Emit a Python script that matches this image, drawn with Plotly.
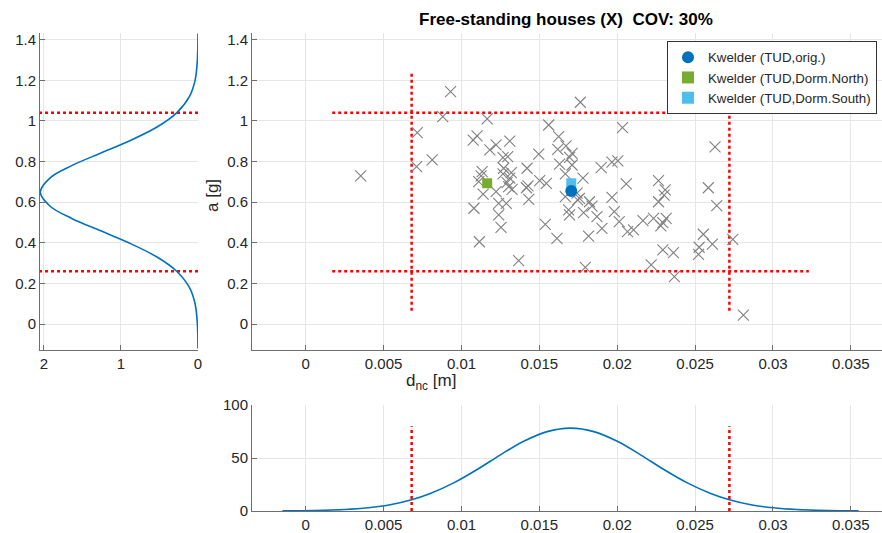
import plotly.graph_objects as go

# ---------------- data ----------------
# scatter of observed houses: d_nc [m] and a [g]
pts_d = [0.00353, 0.00930, 0.00880, 0.01165, 0.00716, 0.00712, 0.00812, 0.01075, 0.01100, 0.01182,
         0.01222, 0.01310, 0.01267, 0.01297, 0.01133, 0.01126, 0.01111, 0.01139, 0.01222, 0.01271,
         0.01267, 0.01320, 0.01310, 0.01293, 0.01303, 0.01325, 0.01421, 0.01427, 0.01417, 0.01496,
         0.01560, 0.01624, 0.01618, 0.01502, 0.01545, 0.01432, 0.01630, 0.01080, 0.01239, 0.01288,
         0.01239, 0.01254, 0.01115, 0.01367, 0.01538, 0.01613, 0.01763, 0.02034, 0.01671, 0.01710,
         0.01694, 0.01710, 0.01897, 0.01966, 0.02004, 0.02628, 0.01667, 0.01780, 0.02058, 0.02265,
         0.02308, 0.02301, 0.02265, 0.02585, 0.02639, 0.01742, 0.01758, 0.01822, 0.01966, 0.01667,
         0.01746, 0.01688, 0.01694, 0.01784, 0.01838, 0.01870, 0.01981, 0.02013, 0.01902, 0.02066,
         0.02105, 0.02165, 0.02233, 0.02280, 0.02314, 0.02293, 0.01816, 0.02553, 0.02742, 0.02293,
         0.02361, 0.02526, 0.02522, 0.02611, 0.01795, 0.02218, 0.02367, 0.02810]
pts_a = [0.729, 1.144, 1.021, 1.010, 0.942, 0.775, 0.808, 0.906, 0.926, 0.857,
         0.882, 0.901, 0.819, 0.824, 0.750, 0.729, 0.701, 0.640, 0.652, 0.767,
         0.739, 0.745, 0.718, 0.696, 0.676, 0.663, 0.767, 0.680, 0.671, 0.837,
         0.980, 0.923, 0.860, 0.706, 0.693, 0.614, 0.787, 0.570, 0.594, 0.594,
         0.537, 0.476, 0.405, 0.312, 0.491, 0.422, 1.092, 0.967, 0.877, 0.840,
         0.820, 0.783, 0.770, 0.797, 0.803, 0.872, 0.739, 0.718, 0.690, 0.706,
         0.660, 0.635, 0.602, 0.671, 0.583, 0.644, 0.619, 0.602, 0.624, 0.627,
         0.611, 0.562, 0.537, 0.548, 0.581, 0.529, 0.553, 0.504, 0.471, 0.455,
         0.463, 0.509, 0.520, 0.483, 0.520, 0.499, 0.433, 0.442, 0.417, 0.365,
         0.351, 0.378, 0.343, 0.393, 0.279, 0.291, 0.233, 0.044]

# reference buildings
orig_d, orig_a = [0.01705], [0.655]
north_d, north_a = [0.01165], [0.693]
south_d, south_a = [0.01705], [0.693]

# density of a
pdf_a_y = [-0.12, 0.0, 0.1, 0.18, 0.26, 0.33, 0.4, 0.46, 0.52, 0.58, 0.65,
           0.72, 0.78, 0.84, 0.9, 0.97, 1.04, 1.12, 1.2, 1.3, 1.43]
pdf_a_v = [0.0008, 0.008, 0.038, 0.112, 0.277, 0.532, 0.899, 1.272, 1.638, 1.918, 2.046,
           1.918, 1.638, 1.272, 0.899, 0.532, 0.277, 0.112, 0.038, 0.008, 0.0007]

# density of d_nc
pdf_d_x = [-0.0015, 0.0005, 0.0025, 0.004, 0.0055, 0.0068, 0.008, 0.0095, 0.011, 0.0125, 0.014, 0.0155,
           0.017, 0.0185, 0.020, 0.0215, 0.023, 0.0245, 0.026, 0.0272, 0.0285, 0.030, 0.0315, 0.0335, 0.0355]
pdf_d_v = [0.11, 0.42, 1.37, 3.04, 6.16, 10.6, 16.5, 26.5, 39.1, 53.0, 65.8, 74.9,
           78.2, 74.9, 65.8, 53.0, 39.1, 26.5, 16.5, 10.6, 6.16, 3.04, 1.37, 0.42, 0.11]

# limit lines
a_lo, a_hi = 0.26, 1.04
d_lo, d_hi = 0.0068, 0.0272
a_span = [0.065, 1.235]
d_span = [0.0017, 0.0323]
dens_d_top = 80

x_ticks = [0, 0.005, 0.01, 0.015, 0.02, 0.025, 0.03, 0.035]
x_tick_text = ["0", "0.005", "0.01", "0.015", "0.02", "0.025", "0.03", "0.035"]
a_ticks = [0, 0.2, 0.4, 0.6, 0.8, 1, 1.2, 1.4]

# ---------------- figure ----------------
W, H = 882, 533
BLUE = "#0072BD"
RED = "#FF0000"
FONT = "Liberation Sans"
TXT = "#262626"

fig = go.Figure()

red_line = dict(color=RED, width=2.5, dash="dot")

# main scatter panel (x, y)
fig.add_trace(go.Scatter(x=[d_span[0], d_span[1]], y=[a_hi, a_hi], mode="lines", line=red_line,
                         showlegend=False, hoverinfo="skip", xaxis="x", yaxis="y"))
fig.add_trace(go.Scatter(x=[d_span[0], d_span[1]], y=[a_lo, a_lo], mode="lines", line=red_line,
                         showlegend=False, hoverinfo="skip", xaxis="x", yaxis="y"))
fig.add_trace(go.Scatter(x=[d_lo, d_lo], y=a_span, mode="lines", line=red_line,
                         showlegend=False, hoverinfo="skip", xaxis="x", yaxis="y"))
fig.add_trace(go.Scatter(x=[d_hi, d_hi], y=a_span, mode="lines", line=red_line,
                         showlegend=False, hoverinfo="skip", xaxis="x", yaxis="y"))
fig.add_trace(go.Scatter(x=pts_d, y=pts_a, mode="markers",
                         marker=dict(symbol="x-thin-open", size=11, color="#808080",
                                     line=dict(width=1.1, color="#808080")),
                         showlegend=False, xaxis="x", yaxis="y"))
fig.add_trace(go.Scatter(x=north_d, y=north_a, mode="markers", name="Kwelder (TUD,Dorm.North)",
                         marker=dict(symbol="square", size=10, color="#77AC30"),
                         legendrank=2, xaxis="x", yaxis="y"))
fig.add_trace(go.Scatter(x=south_d, y=south_a, mode="markers", name="Kwelder (TUD,Dorm.South)",
                         marker=dict(symbol="square", size=10, color="#4DBEEE"),
                         legendrank=3, xaxis="x", yaxis="y"))
fig.add_trace(go.Scatter(x=orig_d, y=orig_a, mode="markers", name="Kwelder (TUD,orig.)",
                         marker=dict(symbol="circle", size=12, color=BLUE),
                         legendrank=1, xaxis="x", yaxis="y"))

# left density panel (x2, y2)
fig.add_trace(go.Scatter(x=[0, 2.1], y=[a_hi, a_hi], mode="lines", line=red_line,
                         showlegend=False, hoverinfo="skip", xaxis="x2", yaxis="y2"))
fig.add_trace(go.Scatter(x=[0, 2.1], y=[a_lo, a_lo], mode="lines", line=red_line,
                         showlegend=False, hoverinfo="skip", xaxis="x2", yaxis="y2"))
fig.add_trace(go.Scatter(x=pdf_a_v, y=pdf_a_y, mode="lines", line=dict(color=BLUE, width=1.6, shape="spline"),
                         showlegend=False, xaxis="x2", yaxis="y2"))

# bottom density panel (x3, y3)
fig.add_trace(go.Scatter(x=[d_lo, d_lo], y=[0, dens_d_top], mode="lines", line=red_line,
                         showlegend=False, hoverinfo="skip", xaxis="x3", yaxis="y3"))
fig.add_trace(go.Scatter(x=[d_hi, d_hi], y=[0, dens_d_top], mode="lines", line=red_line,
                         showlegend=False, hoverinfo="skip", xaxis="x3", yaxis="y3"))
fig.add_trace(go.Scatter(x=pdf_d_x, y=pdf_d_v, mode="lines", line=dict(color=BLUE, width=1.6, shape="spline"),
                         showlegend=False, xaxis="x3", yaxis="y3"))

def px_x(p):
    return p / W

def px_y(p):
    return 1 - p / H

axis_common = dict(showgrid=True, gridcolor="#E6E6E6", gridwidth=1, zeroline=False,
                   showline=True, linecolor="#6E6E6E", linewidth=1,
                   ticks="inside", ticklen=5, tickcolor="#6E6E6E", automargin=False,
                   tickfont=dict(family=FONT, size=15, color=TXT))

x_range = [-0.00345, 0.0370]
a_range = [-0.128, 1.433]

fig.update_layout(
    width=W, height=H,
    margin=dict(l=0, r=0, t=0, b=0, autoexpand=False),
    paper_bgcolor="white", plot_bgcolor="white",
    font=dict(family=FONT, color=TXT),
    xaxis=dict(axis_common, domain=[px_x(252), 1.0], range=x_range,
               tickvals=x_ticks, ticktext=x_tick_text, anchor="y"),
    yaxis=dict(axis_common, domain=[px_y(350), px_y(33)], range=a_range,
               tickvals=a_ticks, anchor="x"),
    xaxis2=dict(axis_common, domain=[px_x(40), px_x(198)], range=[2.05, 0],
                tickvals=[0, 1, 2], anchor="y2"),
    yaxis2=dict(axis_common, domain=[px_y(350), px_y(33)], range=a_range,
                tickvals=a_ticks, anchor="x2"),
    xaxis3=dict(axis_common, domain=[px_x(252), 1.0], range=x_range,
                tickvals=x_ticks, ticktext=x_tick_text, anchor="y3"),
    yaxis3=dict(axis_common, domain=[px_y(511), px_y(405)], range=[0, 100],
                tickvals=[0, 50, 100], anchor="x3"),
    legend=dict(x=px_x(877), y=px_y(41), xanchor="right", yanchor="top",
                bgcolor="white", bordercolor="#333333", borderwidth=1,
                font=dict(family=FONT, size=13.3, color=TXT),
                tracegroupgap=0, itemsizing="constant"),
    showlegend=True,
    annotations=[
        dict(text="<b>Free-standing houses (X)  COV: 30%</b>", x=px_x(566), y=px_y(20),
             xref="paper", yref="paper", showarrow=False, xanchor="center", yanchor="middle",
             font=dict(family=FONT, size=17, color="#000000")),
        dict(text="d<sub>nc</sub> [m]", x=px_x(431), y=px_y(382),
             xref="paper", yref="paper", showarrow=False, xanchor="center", yanchor="middle",
             font=dict(family=FONT, size=17, color=TXT)),
        dict(text="a [g]", x=px_x(213), y=px_y(196), textangle=-90,
             xref="paper", yref="paper", showarrow=False, xanchor="center", yanchor="middle",
             font=dict(family=FONT, size=17, color=TXT)),
    ],
)

fig.write_html("out.html", config={"displayModeBar": False},
               post_script="document.body.style.margin='0';document.body.style.overflow='hidden';")
